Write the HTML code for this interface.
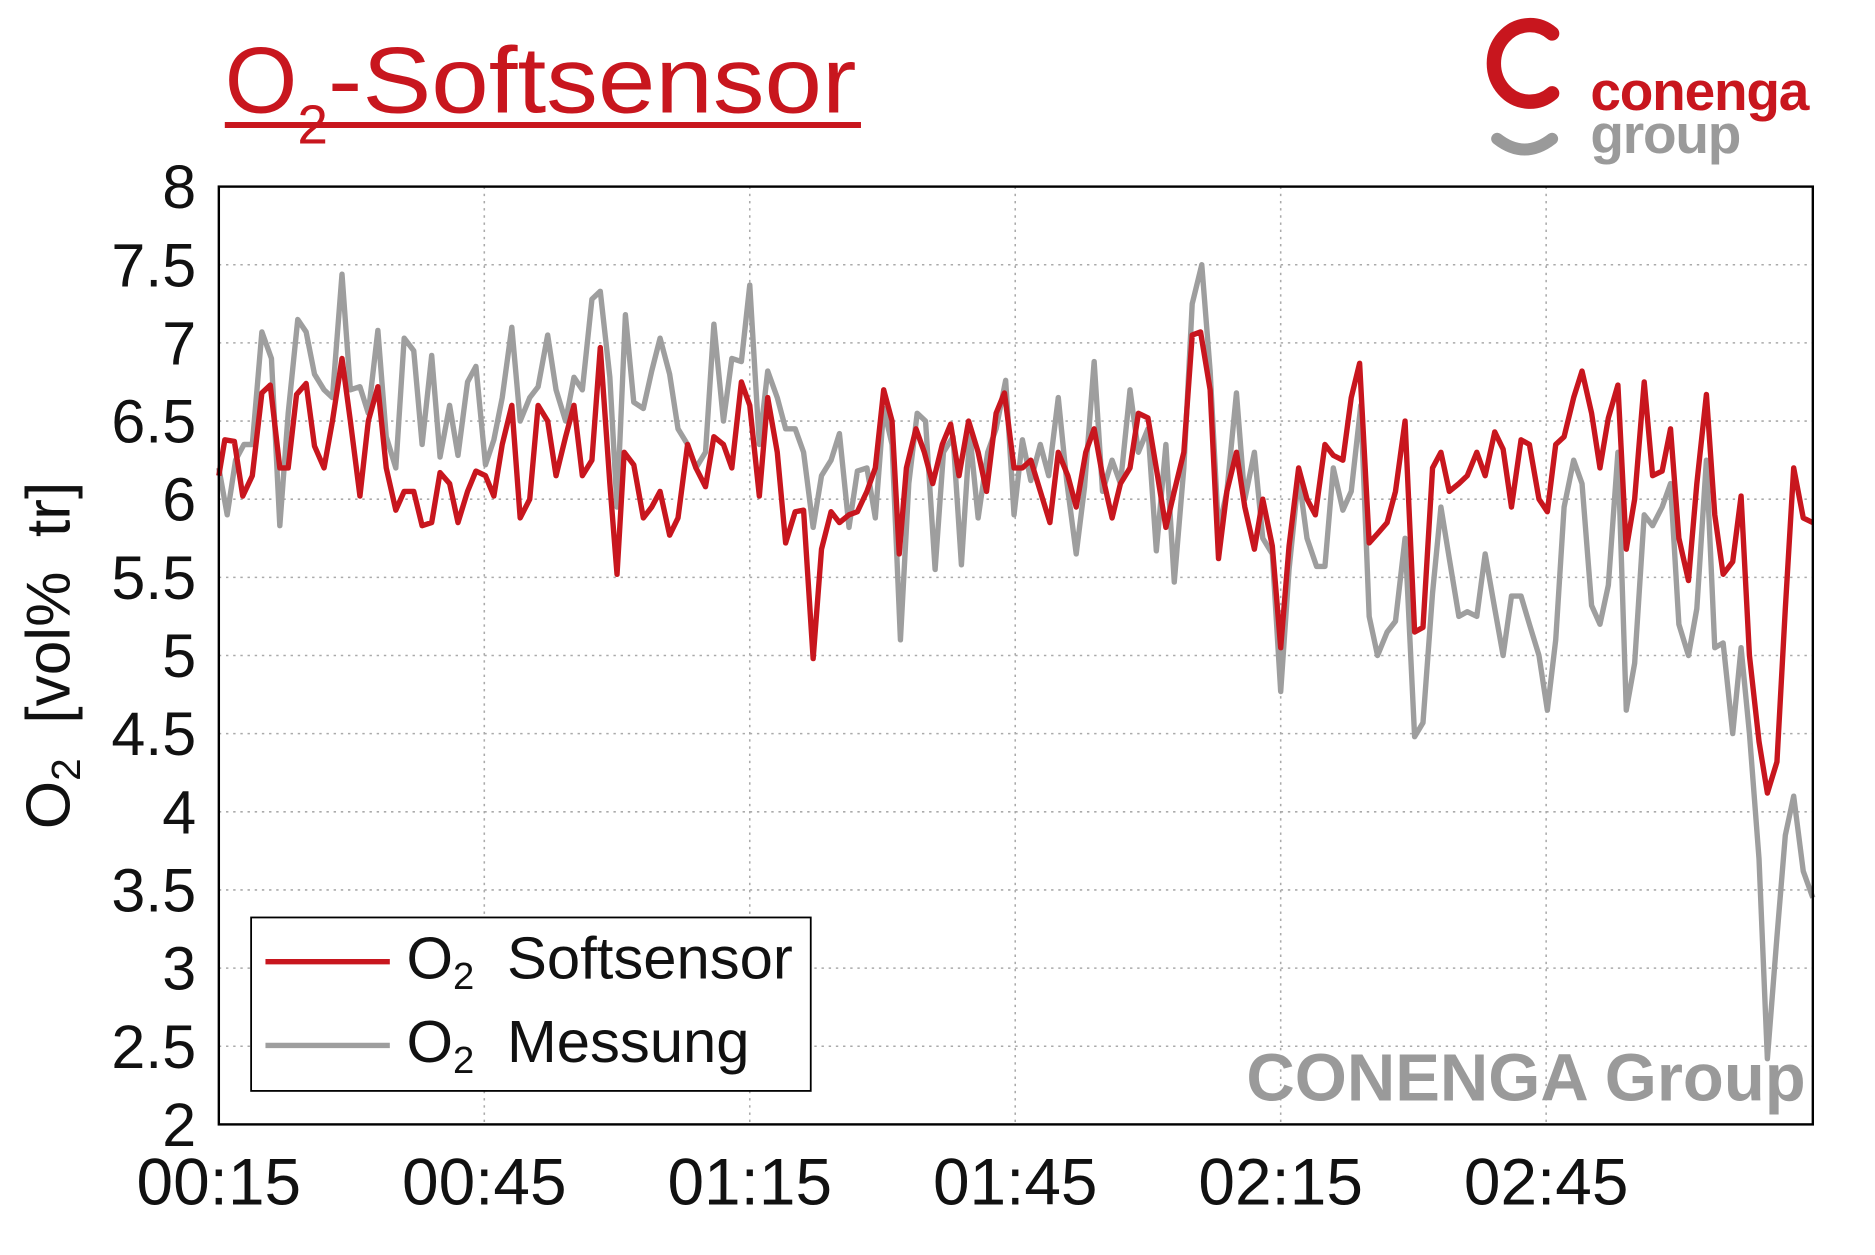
<!DOCTYPE html>
<html><head><meta charset="utf-8"><style>html,body{margin:0;padding:0;background:#fff;overflow:hidden}</style></head>
<body>
<svg id="s" width="1875" height="1250" viewBox="0 0 1568 1045" preserveAspectRatio="none" xmlns="http://www.w3.org/2000/svg" font-family="Liberation Sans, sans-serif">
<rect width="1568" height="1045" fill="#fff"/>
<g id="grid" stroke="#aaa" stroke-width="1.3" stroke-dasharray="2,4"></g>
<text x="188" y="94" font-size="78" fill="#c8161e">O<tspan font-size="46" dy="26">2</tspan><tspan dy="-26" textLength="442" lengthAdjust="spacingAndGlyphs">-Softsensor</tspan></text>
<rect x="188" y="102" width="532" height="5" fill="#c8161e"/>
<path d="M1298,28 A30,32 0 1 0 1298,78" fill="none" stroke="#c8161e" stroke-width="12" stroke-linecap="round"/>
<path d="M1252,116 Q1275,134 1298,116" fill="none" stroke="#9a9a9a" stroke-width="10" stroke-linecap="round"/>
<text x="1330" y="92" font-size="46" font-weight="bold" fill="#c8161e" letter-spacing="-1">conenga</text>
<text x="1330" y="128" font-size="46" font-weight="bold" fill="#9a9a9a" letter-spacing="-1">group</text>
<g id="ylab" font-size="51" text-anchor="end" fill="#111"></g>
<g id="xlab" font-size="55" text-anchor="middle" fill="#111"></g>
<text transform="translate(58,548) rotate(-90)" font-size="52" text-anchor="middle" fill="#111">O<tspan font-size="34" dy="9">2</tspan><tspan dy="-9" xml:space="preserve">  [vol%  tr]</tspan></text>
<text x="1510" y="920" font-size="56" font-weight="bold" fill="#9a9a9a" text-anchor="end">CONENGA Group</text>
<polyline id="gray" fill="none" stroke="#9e9e9e" stroke-width="4.5" stroke-linejoin="round"/>
<polyline id="red" fill="none" stroke="#c8161e" stroke-width="4.5" stroke-linejoin="round"/>
<rect x="183" y="156" width="1333" height="784" fill="none" stroke="#000" stroke-width="2"/>
<rect x="210" y="767" width="468" height="145" fill="#fff" stroke="#000" stroke-width="1.5"/>
<line x1="222" y1="804" x2="326" y2="804" stroke="#c8161e" stroke-width="4.5"/>
<line x1="222" y1="874" x2="326" y2="874" stroke="#9e9e9e" stroke-width="4.5"/>
<text x="340" y="818" font-size="50" fill="#111">O<tspan font-size="32" dy="9">2</tspan><tspan dy="-9" x="424">Softsensor</tspan></text>
<text x="340" y="888" font-size="50" fill="#111">O<tspan font-size="32" dy="9">2</tspan><tspan dy="-9" x="424">Messung</tspan></text>
</svg>
<script>
var NS="http://www.w3.org/2000/svg";
function Y(v){return 156+(8-v)*130.667;}
var g=document.getElementById('grid'),yl=document.getElementById('ylab'),xl=document.getElementById('xlab');
for(var i=0;i<=12;i++){var v=2+i*0.5,y=Y(v);
 if(i>0&&i<12){var l=document.createElementNS(NS,'line');l.setAttribute('x1',183);l.setAttribute('x2',1516);l.setAttribute('y1',y);l.setAttribute('y2',y);g.appendChild(l);}
 var t=document.createElementNS(NS,'text');t.setAttribute('x',164);t.setAttribute('y',y+18);t.textContent=String(v);yl.appendChild(t);}
var xs=["00:15","00:45","01:15","01:45","02:15","02:45"];
for(var j=0;j<6;j++){var x=183+j*222;
 if(j>0){var l=document.createElementNS(NS,'line');l.setAttribute('x1',x);l.setAttribute('x2',x);l.setAttribute('y1',156);l.setAttribute('y2',940);g.appendChild(l);}
 var t=document.createElementNS(NS,'text');t.setAttribute('x',x);t.setAttribute('y',1007);t.textContent=xs[j];xl.appendChild(t);}
var red=[183,6.15,188,6.38,196,6.37,203,6.02,211,6.15,219,6.68,226,6.73,234,6.2,241,6.2,248,6.67,256,6.74,263,6.34,271,6.2,278,6.5,286,6.9,293,6.5,301,6.02,308,6.5,316,6.72,323,6.2,331,5.93,338,6.05,346,6.05,353,5.83,361,5.85,368,6.17,376,6.1,383,5.85,391,6.05,398,6.18,406,6.15,413,6.02,420,6.35,428,6.6,435,5.88,443,6.0,450,6.6,458,6.5,465,6.15,473,6.4,480,6.6,487,6.15,495,6.25,502,6.97,510,6.1,516,5.52,522,6.3,530,6.22,538,5.88,545,5.95,552,6.05,560,5.77,567,5.88,575,6.35,582,6.2,590,6.08,597,6.4,605,6.35,612,6.2,620,6.75,627,6.6,635,6.02,642,6.65,650,6.3,657,5.72,665,5.92,672,5.93,680,4.98,687,5.68,695,5.92,702,5.85,710,5.9,717,5.92,725,6.05,732,6.2,739,6.7,746,6.5,752,5.65,758,6.2,766,6.45,773,6.3,780,6.1,788,6.35,795,6.48,802,6.15,810,6.5,818,6.3,825,6.05,833,6.55,840,6.68,848,6.2,855,6.2,862,6.25,870,6.05,878,5.85,885,6.3,893,6.15,900,5.95,908,6.3,915,6.45,922,6.15,930,5.88,937,6.1,945,6.2,952,6.55,960,6.52,968,6.15,975,5.82,982,6.05,990,6.3,997,7.05,1004,7.07,1012,6.7,1019,5.62,1026,6.05,1034,6.3,1041,5.95,1049,5.68,1056,6.0,1064,5.7,1071,5.05,1078,5.7,1086,6.2,1093,6.0,1100,5.9,1108,6.35,1115,6.28,1123,6.25,1130,6.65,1137,6.87,1145,5.72,1152,5.78,1160,5.85,1167,6.05,1175,6.5,1183,5.15,1190,5.18,1198,6.2,1205,6.3,1212,6.05,1220,6.1,1227,6.15,1235,6.3,1242,6.15,1250,6.43,1257,6.32,1264,5.95,1272,6.38,1279,6.35,1287,6.0,1294,5.92,1301,6.35,1308,6.4,1316,6.65,1323,6.82,1331,6.55,1338,6.2,1345,6.52,1353,6.73,1360,5.68,1367,6.0,1375,6.75,1382,6.15,1390,6.18,1397,6.45,1404,5.75,1412,5.48,1419,6.1,1427,6.67,1434,5.9,1441,5.52,1449,5.6,1456,6.02,1463,5.0,1471,4.45,1478,4.12,1486,4.32,1493,5.3,1500,6.2,1508,5.88,1516,5.85];
var gray=[183,6.2,190,5.9,197,6.25,204,6.35,211,6.35,219,7.07,227,6.9,234,5.83,241,6.55,249,7.15,256,7.07,263,6.8,271,6.7,278,6.65,286,7.44,293,6.7,301,6.72,308,6.55,316,7.08,323,6.4,331,6.2,338,7.03,346,6.95,353,6.35,361,6.92,368,6.27,376,6.6,383,6.28,391,6.75,398,6.85,406,6.22,413,6.38,420,6.65,428,7.1,435,6.5,443,6.65,450,6.72,458,7.05,465,6.7,473,6.5,480,6.78,487,6.7,495,7.28,502,7.33,510,6.78,516,5.95,523,7.18,530,6.62,538,6.58,545,6.82,552,7.03,560,6.8,567,6.45,575,6.35,582,6.2,590,6.3,597,7.12,605,6.5,612,6.9,620,6.88,627,7.37,635,6.35,642,6.82,650,6.65,657,6.45,665,6.45,672,6.3,680,5.82,687,6.15,695,6.25,702,6.42,710,5.82,717,6.18,725,6.2,732,5.88,739,6.58,746,6.35,753,5.1,760,6.1,767,6.55,774,6.5,782,5.55,789,6.3,797,6.4,804,5.58,811,6.42,818,5.88,826,6.3,833,6.45,841,6.76,848,5.9,855,6.38,862,6.12,870,6.35,877,6.15,885,6.65,892,6.12,900,5.65,907,6.08,915,6.88,922,6.05,930,6.25,937,6.1,945,6.7,952,6.3,960,6.45,967,5.67,975,6.35,982,5.47,990,6.2,997,7.25,1005,7.5,1012,6.82,1019,5.8,1026,6.05,1034,6.68,1041,6.0,1049,6.3,1056,5.75,1064,5.65,1071,4.77,1078,5.55,1086,6.15,1093,5.75,1101,5.57,1108,5.57,1115,6.2,1123,5.93,1130,6.05,1138,6.6,1145,5.25,1152,5.0,1160,5.15,1167,5.22,1175,5.75,1183,4.48,1190,4.57,1198,5.4,1205,5.95,1212,5.62,1220,5.25,1227,5.28,1235,5.25,1242,5.65,1250,5.3,1257,5.0,1264,5.38,1272,5.38,1279,5.2,1287,5.0,1294,4.65,1301,5.1,1308,5.95,1316,6.25,1323,6.1,1331,5.32,1338,5.2,1345,5.45,1353,6.3,1360,4.65,1367,4.95,1375,5.9,1382,5.83,1390,5.95,1397,6.1,1404,5.2,1412,5.0,1419,5.3,1427,6.25,1434,5.05,1441,5.08,1449,4.5,1456,5.05,1463,4.5,1471,3.7,1478,2.42,1486,3.2,1493,3.85,1500,4.1,1508,3.62,1516,3.45];
function pts(a){var s=[];for(var k=0;k<a.length;k+=2)s.push(a[k]+","+Y(a[k+1]).toFixed(1));return s.join(" ");}
document.getElementById('red').setAttribute('points',pts(red));
document.getElementById('gray').setAttribute('points',pts(gray));
</script>
</body></html>
